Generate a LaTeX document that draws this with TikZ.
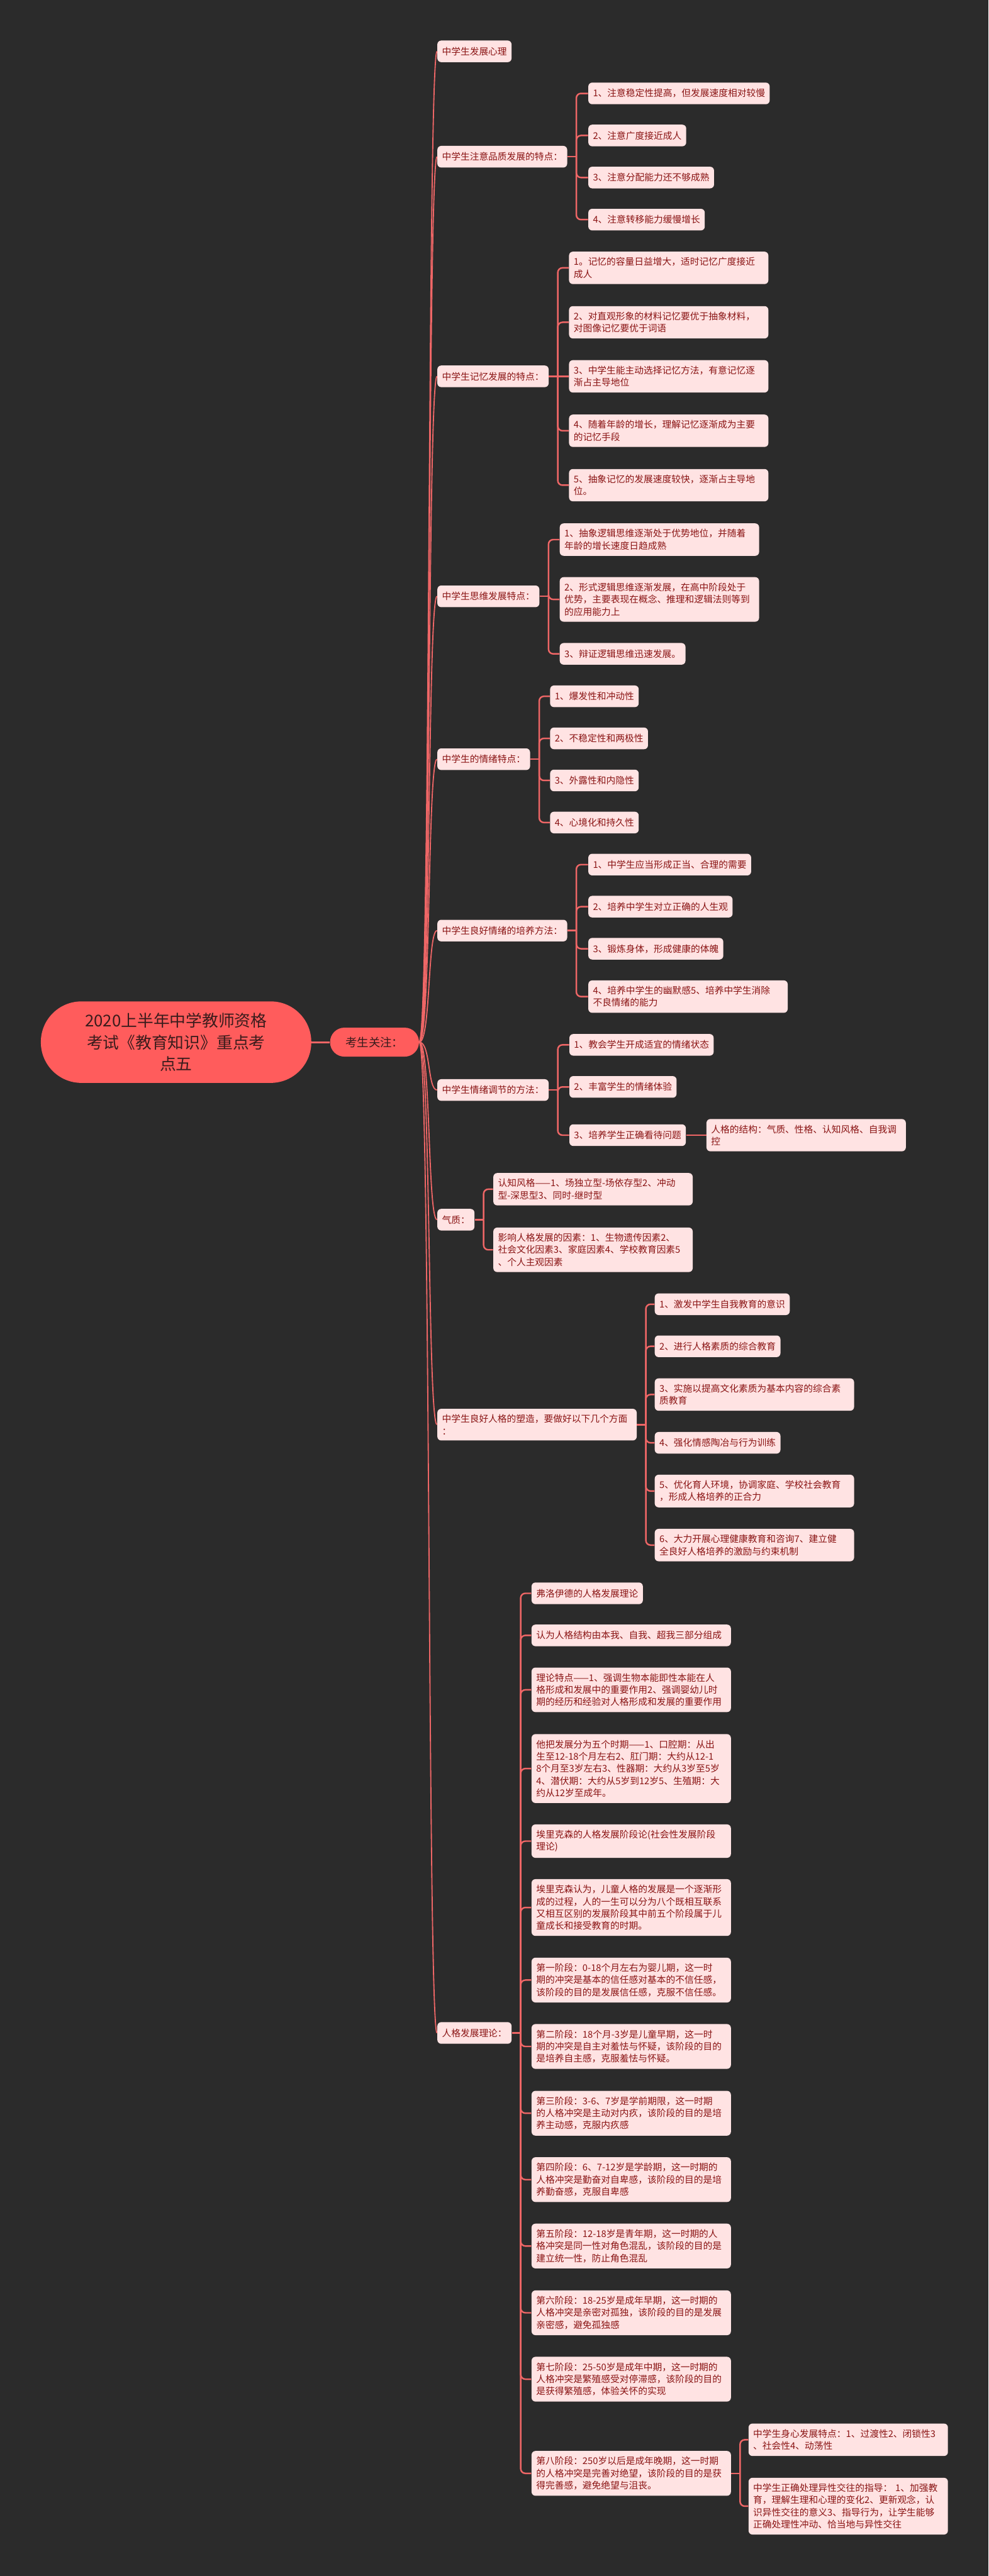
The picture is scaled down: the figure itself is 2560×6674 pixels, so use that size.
\documentclass[tikz,border=0pt]{standalone}
\usepackage{fontspec}
\setmainfont{Noto Sans CJK SC}
\usepackage{tikz}
\definecolor{MapBack}{HTML}{2B2B2B}
\definecolor{MapRed}{HTML}{FF5C5C}
\definecolor{LinkRed}{HTML}{EE6666}
\definecolor{LeafPink}{HTML}{FFE3E3}
\definecolor{LeafInk}{HTML}{8A1414}
\definecolor{RootInk}{HTML}{3A1C1C}

\begin{document}
\begin{tikzpicture}[x=0.01cm,y=-0.01cm,
  rootbox/.style={fill=MapRed,text=RootInk,rounded corners=1.05cm,minimum width=7cm,minimum height=2.11cm,align=center,font=\fontsize{11.95pt}{15.93pt}\selectfont},
  focus/.style={fill=MapRed,text=RootInk,rounded corners=0.37cm,minimum width=2.3cm,minimum height=0.75cm,font=\fontsize{8.54pt}{10pt}\selectfont},
  leaf/.style={anchor=west,fill=LeafPink,text=LeafInk,rounded corners=0.1cm,inner xsep=0.12cm,inner ysep=0.12cm,minimum height=0.56cm,align=left,font=\fontsize{6.83pt}{8.96pt}\selectfont},
  wide/.style={leaf,text width=4.92cm,inner ysep=0.15cm},
  link/.style={draw=LinkRed,line width=0.04cm},
  trunk/.style={draw=LinkRed,line width=0.03cm}
]
\fill[MapBack] (0,0) rectangle (2560,6674);
\useasboundingbox (0,0) rectangle (2560,6674);

\node[rootbox] (root) at (456,2700) {2020上半年中学教师资格\\考试《教育知识》重点考\\点五};
\node[focus] (kao) at (970,2700) {考生关注：};
\draw[link,line width=0.05cm] (root) -- (kao);

% main topics
\node[leaf] (fzxl) at (1132,133) {中学生发展心理};
\node[leaf] (zyz) at (1132,406) {中学生注意品质发展的特点：};
\node[leaf] (jy) at (1132,975) {中学生记忆发展的特点：};
\node[leaf] (sw) at (1132,1545) {中学生思维发展特点：};
\node[leaf] (qx) at (1132,1967) {中学生的情绪特点：};
\node[leaf] (pyff) at (1132,2411) {中学生良好情绪的培养方法：};
\node[leaf] (tj) at (1132,2824) {中学生情绪调节的方法：};
\node[leaf] (qz) at (1132,3160) {气质：};
\node[wide] (rgsz) at (1132,3691) {中学生良好人格的塑造，要做好以下几个方面\\：};
\node[leaf] (rgll) at (1132,5267) {人格发展理论：};
\foreach \t in {fzxl,zyz,jy,sw,qx,pyff,tj,qz,rgsz,rgll}
  \draw[trunk] (kao.east) .. controls +(30,0) and +(-25,0) .. (\t.west);

% attention
\node[leaf] (a1) at (1523,242) {1、注意稳定性提高，但发展速度相对较慢};
\node[leaf] (a2) at (1523,351) {2、注意广度接近成人};
\node[leaf] (a3) at (1523,460) {3、注意分配能力还不够成熟};
\node[leaf] (a4) at (1523,569) {4、注意转移能力缓慢增长};

% memory
\node[wide] (b1) at (1473,694) {1。记忆的容量日益增大，适时记忆广度接近\\成人};
\node[wide] (b2) at (1473,835) {2、对直观形象的材料记忆要优于抽象材料，\\对图像记忆要优于词语};
\node[wide] (b3) at (1473,975) {3、中学生能主动选择记忆方法，有意记忆逐\\渐占主导地位};
\node[wide] (b4) at (1473,1116) {4、随着年龄的增长，理解记忆逐渐成为主要\\的记忆手段};
\node[wide] (b5) at (1473,1257) {5、抽象记忆的发展速度较快，逐渐占主导地\\位。};

% thinking
\node[wide] (c1) at (1449,1398) {1、抽象逻辑思维逐渐处于优势地位，并随着\\年龄的增长速度日趋成熟};
\node[wide] (c2) at (1449,1553) {2、形式逻辑思维逐渐发展，在高中阶段处于\\优势，主要表现在概念、推理和逻辑法则等到\\的应用能力上};
\node[leaf] (c3) at (1449,1694) {3、辩证逻辑思维迅速发展。};

% emotion
\node[leaf] (d1) at (1424,1804) {1、爆发性和冲动性};
\node[leaf] (d2) at (1424,1913) {2、不稳定性和两极性};
\node[leaf] (d3) at (1424,2022) {3、外露性和内隐性};
\node[leaf] (d4) at (1424,2131) {4、心境化和持久性};

\node[leaf] (e1) at (1523,2240) {1、中学生应当形成正当、合理的需要};
\node[leaf] (e2) at (1523,2349) {2、培养中学生对立正确的人生观};
\node[leaf] (e3) at (1523,2458) {3、锻炼身体，形成健康的体魄};
\node[wide] (e4) at (1523,2582) {4、培养中学生的幽默感5、培养中学生消除\\不良情绪的能力};

\node[leaf] (f1) at (1474,2707) {1、教会学生开成适宜的情绪状态};
\node[leaf] (f2) at (1474,2816) {2、丰富学生的情绪体验};
\node[leaf] (f3) at (1474,2941) {3、培养学生正确看待问题};
\node[wide] (f3a) at (1829,2941) {人格的结构：气质、性格、认知风格、自我调\\控};

% temperament and personality
\node[wide] (g1) at (1277,3081) {认知风格——1、场独立型-场依存型2、冲动\\型-深思型3、同时-继时型};
\node[wide] (g2) at (1277,3238) {影响人格发展的因素：1、生物遗传因素2、\\社会文化因素3、家庭因素4、学校教育因素5\\、个人主观因素};

\node[leaf] (h1) at (1695,3379) {1、激发中学生自我教育的意识};
\node[leaf] (h2) at (1695,3488) {2、进行人格素质的综合教育};
\node[wide] (h3) at (1695,3613) {3、实施以提高文化素质为基本内容的综合素\\质教育};
\node[leaf] (h4) at (1695,3738) {4、强化情感陶冶与行为训练};
\node[wide] (h5) at (1695,3863) {5、优化育人环境，协调家庭、学校社会教育\\，形成人格培养的正合力};
\node[wide] (h6) at (1695,4003) {6、大力开展心理健康教育和咨询7、建立健\\全良好人格培养的激励与约束机制};

% theories
\node[leaf] (i1) at (1376,4128) {弗洛伊德的人格发展理论};
\node[wide] (i2) at (1376,4237) {认为人格结构由本我、自我、超我三部分组成};
\node[wide] (i3) at (1376,4378) {理论特点——1、强调生物本能即性本能在人\\格形成和发展中的重要作用2、强调婴幼儿时\\期的经历和经验对人格形成和发展的重要作用};
\node[wide] (i4) at (1376,4582) {他把发展分为五个时期——1、口腔期：从出\\生至12-18个月左右2、肛门期：大约从12-1\\8个月至3岁左右3、性器期：大约从3岁至5岁\\4、潜伏期：大约从5岁到12岁5、生殖期：大\\约从12岁至成年。};
\node[wide] (i5) at (1376,4770) {埃里克森的人格发展阶段论(社会性发展阶段\\理论)};
\node[wide] (i6) at (1376,4942) {埃里克森认为，儿童人格的发展是一个逐渐形\\成的过程，人的一生可以分为八个既相互联系\\又相互区别的发展阶段其中前五个阶段属于儿\\童成长和接受教育的时期。};
\node[wide] (i7) at (1376,5130) {第一阶段：0-18个月左右为婴儿期，这一时\\期的冲突是基本的信任感对基本的不信任感，\\该阶段的目的是发展信任感，克服不信任感。};
\node[wide] (i8) at (1376,5302) {第二阶段：18个月-3岁是儿童早期，这一时\\期的冲突是自主对羞怯与怀疑，该阶段的目的\\是培养自主感，克服羞怯与怀疑。};
\node[wide] (i9) at (1376,5475) {第三阶段：3-6、7岁是学前期限，这一时期\\的人格冲突是主动对内疚，该阶段的目的是培\\养主动感，克服内疚感};
\node[wide] (i10) at (1376,5647) {第四阶段：6、7-12岁是学龄期，这一时期的\\人格冲突是勤奋对自卑感，该阶段的目的是培\\养勤奋感，克服自卑感};
\node[wide] (i11) at (1376,5819) {第五阶段：12-18岁是青年期，这一时期的人\\格冲突是同一性对角色混乱，该阶段的目的是\\建立统一性，防止角色混乱};
\node[wide] (i12) at (1376,5992) {第六阶段：18-25岁是成年早期，这一时期的\\人格冲突是亲密对孤独，该阶段的目的是发展\\亲密感，避免孤独感};
\node[wide] (i13) at (1376,6164) {第七阶段：25-50岁是成年中期，这一时期的\\人格冲突是繁殖感受对停滞感，该阶段的目的\\是获得繁殖感，体验关怀的实现};
\node[wide] (i14) at (1376,6408) {第八阶段：250岁以后是成年晚期，这一时期\\的人格冲突是完善对绝望，该阶段的目的是获\\得完善感，避免绝望与沮丧。};
\node[wide] (j1) at (1938,6321) {中学生身心发展特点：1、过渡性2、闭锁性3\\、社会性4、动荡性};
\node[wide] (j2) at (1938,6493) {中学生正确处理异性交往的指导： 1、加强教\\育，理解生理和心理的变化2、更新观念，认\\识异性交往的意义3、指导行为，让学生能够\\正确处理性冲动、恰当地与异性交往};

% brackets
\draw[link] (zyz.east) -- ++(23,0) coordinate (zyz-j);
\foreach \c in {a1,a2,a3,a4} \draw[link,rounded corners=0.12cm] (zyz-j) |- (\c.west);
\draw[link] (jy.east) -- ++(23,0) coordinate (jy-j);
\foreach \c in {b1,b2,b4,b5} \draw[link,rounded corners=0.12cm] (jy-j) |- (\c.west);
\draw[link] (jy-j) -- (b3.west);
\draw[link] (sw.east) -- ++(23,0) coordinate (sw-j);
\foreach \c in {c1,c2,c3} \draw[link,rounded corners=0.12cm] (sw-j) |- (\c.west);
\draw[link] (qx.east) -- ++(23,0) coordinate (qx-j);
\foreach \c in {d1,d2,d3,d4} \draw[link,rounded corners=0.12cm] (qx-j) |- (\c.west);
\draw[link] (pyff.east) -- ++(23,0) coordinate (pyff-j);
\foreach \c in {e1,e2,e3,e4} \draw[link,rounded corners=0.12cm] (pyff-j) |- (\c.west);
\draw[link] (tj.east) -- ++(23,0) coordinate (tj-j);
\foreach \c in {f1,f2,f3} \draw[link,rounded corners=0.12cm] (tj-j) |- (\c.west);
\draw[link] (f3.east) -- (f3a.west);
\draw[link] (qz.east) -- ++(23,0) coordinate (qz-j);
\foreach \c in {g1,g2} \draw[link,rounded corners=0.12cm] (qz-j) |- (\c.west);
\draw[link] (rgsz.east) -- ++(23,0) coordinate (rgsz-j);
\foreach \c in {h1,h2,h3,h4,h5,h6} \draw[link,rounded corners=0.12cm] (rgsz-j) |- (\c.west);
\draw[link] (rgll.east) -- ++(23,0) coordinate (rgll-j);
\foreach \c in {i1,i2,i3,i4,i5,i6,i7,i8,i9,i10,i11,i12,i13,i14} \draw[link,rounded corners=0.12cm] (rgll-j) |- (\c.west);
\draw[link] (i14.east) -- ++(23,0) coordinate (i14-j);
\foreach \c in {j1,j2} \draw[link,rounded corners=0.12cm] (i14-j) |- (\c.west);
\end{tikzpicture}
\end{document}
